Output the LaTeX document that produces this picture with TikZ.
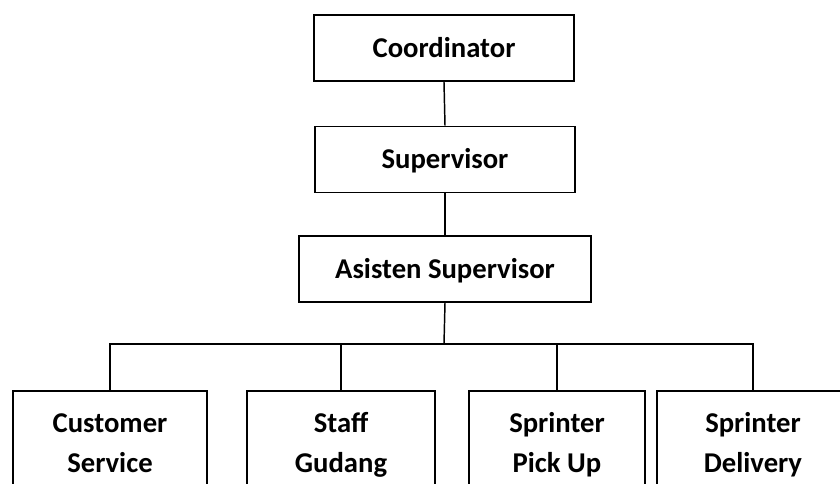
\documentclass[tikz,border=0pt]{standalone}
\usepackage{fontspec}
\setmainfont{Carlito}
\begin{document}
\begin{tikzpicture}[x=0.75pt,y=-0.75pt]
\tikzstyle{every node}=[rectangle,draw,line width=1.4pt,inner sep=0pt,font=\fontsize{21.5pt}{30pt}\selectfont\bfseries]
\tikzstyle{top box}=[minimum height=49.5pt,text height=14pt,text depth=0pt]
\tikzstyle{staff box}=[anchor=north,minimum height=81pt,align=center]
\tikzstyle{link}=[line width=1.1pt]
\useasboundingbox (0,0) rectangle (840,483);
\node[top box,minimum width=195pt] (coord) at (444,48) {Coordinator};
\node[top box,minimum width=195pt] (sup) at (445,159.5) {Supervisor};
\node[top box,minimum width=219pt] (asis) at (445,269) {Asisten Supervisor};
\node[staff box,minimum width=145.5pt] (cs) at (110,390) {\strut Customer\\\strut Service};
\node[staff box,minimum width=141pt] (sg) at (341,390) {\strut Staff\\\strut Gudang};
\node[staff box,minimum width=132pt] (pu) at (557,390) {\strut Sprinter\\\strut Pick Up};
\node[staff box,minimum width=144pt] (dl) at (753,390) {\strut Sprinter\\\strut Delivery};
\coordinate (fork) at (444,344);
\draw[link] (coord.south) -- (sup.north);
\draw[link] (sup.south) -- (asis.north);
\draw[link] (asis.south) -- (fork);
\draw[link] (cs.north) |- (fork) -| (dl.north);
\foreach \n in {sg,pu}
  \draw[link] (\n.north) -- (\n.north |- fork);
\end{tikzpicture}
\end{document}
